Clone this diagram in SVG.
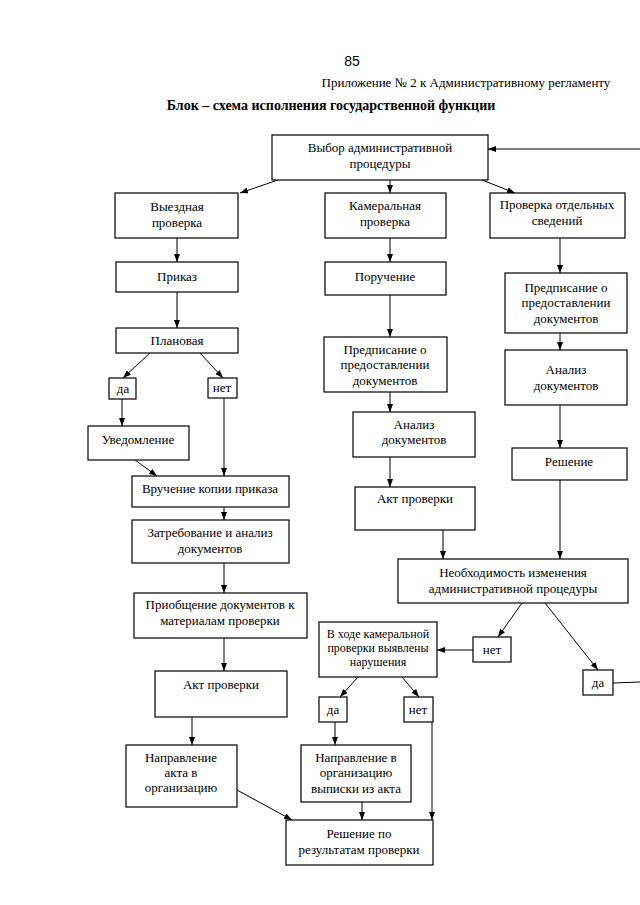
<svg xmlns="http://www.w3.org/2000/svg" width="640" height="905" viewBox="0 0 640 905">
<defs>
<marker id="arr" markerWidth="8" markerHeight="6" refX="8" refY="3" orient="auto" markerUnits="userSpaceOnUse">
<path d="M0,0 L8,3 L0,6 z" fill="#000"/>
</marker>
<style>
rect{fill:#fff;stroke:#000;stroke-width:1.2}
text{font-family:"Liberation Serif","Times New Roman",serif;font-size:13px;fill:#000;text-anchor:middle}
.c line{stroke:#000;stroke-width:1}
.c .a{marker-end:url(#arr)}
.s{font-size:12px}
</style>
</defs>
<rect x="0" y="0" width="640" height="905" style="stroke:none;fill:#fff"/>
<text x="352" y="66" style="font-family:'Liberation Sans',Arial,sans-serif;font-size:14px">85</text>
<text x="466" y="87">Приложение № 2 к Административному регламенту</text>
<text x="331" y="110" style="font-weight:bold;font-size:14px">Блок – схема исполнения государственной функции</text>

<g class="c" id="connectors">
<line class="a" x1="640" y1="149" x2="488" y2="149"/>
<line class="a" x1="278" y1="180" x2="240" y2="193"/>
<line class="a" x1="390" y1="180" x2="390" y2="193"/>
<line class="a" x1="482" y1="180" x2="515" y2="193"/>
<line class="a" x1="177" y1="238" x2="177" y2="262"/>
<line class="a" x1="177" y1="292" x2="177" y2="328"/>
<line class="a" x1="150" y1="353" x2="123" y2="378"/>
<line class="a" x1="200" y1="353" x2="223" y2="378"/>
<line class="a" x1="122" y1="399" x2="122" y2="426"/>
<line class="a" x1="224" y1="398" x2="224" y2="476"/>
<line class="a" x1="135" y1="460" x2="157" y2="476"/>
<line class="a" x1="224" y1="507" x2="224" y2="520"/>
<line class="a" x1="224" y1="563" x2="224" y2="593"/>
<line class="a" x1="224" y1="638" x2="224" y2="671"/>
<line class="a" x1="192" y1="717" x2="192" y2="745"/>
<line class="a" x1="237" y1="790" x2="292" y2="820"/>
<line class="a" x1="390" y1="238" x2="390" y2="262"/>
<line class="a" x1="390" y1="295" x2="390" y2="337"/>
<line class="a" x1="390" y1="392" x2="390" y2="412"/>
<line class="a" x1="390" y1="457" x2="390" y2="487"/>
<line class="a" x1="443" y1="530" x2="443" y2="559"/>
<line class="a" x1="560" y1="238" x2="560" y2="273"/>
<line class="a" x1="560" y1="333" x2="560" y2="350"/>
<line class="a" x1="560" y1="405" x2="560" y2="448"/>
<line class="a" x1="560" y1="480" x2="560" y2="559"/>
<line class="a" x1="522" y1="603" x2="498" y2="637"/>
<line class="a" x1="545" y1="603" x2="598" y2="670"/>
<line class="a" x1="473" y1="650" x2="437" y2="650"/>
<line x1="613" y1="683" x2="640" y2="682"/>
<line class="a" x1="358" y1="677" x2="340" y2="697"/>
<line class="a" x1="402" y1="677" x2="419" y2="697"/>
<line class="a" x1="335" y1="722" x2="335" y2="745"/>
<line class="a" x1="432" y1="722" x2="432" y2="820"/>
<line class="a" x1="362" y1="802" x2="362" y2="820"/>
</g>

<g id="n-vybor"><rect x="272" y="135" width="216" height="45"/><text x="380" y="152">Выбор административной</text><text x="380" y="168">процедуры</text></g>
<g id="n-vyezd"><rect x="115" y="193" width="123" height="45"/><text x="177" y="211">Выездная</text><text x="177" y="227">проверка</text></g>
<g id="n-kamer"><rect x="325" y="193" width="121" height="45"/><text x="385" y="210">Камеральная</text><text x="385" y="226">проверка</text></g>
<g id="n-otdel"><rect x="490" y="193" width="135" height="45"/><text x="557" y="209">Проверка отдельных</text><text x="557" y="225">сведений</text></g>
<g id="n-prikaz"><rect x="116" y="262" width="122" height="30"/><text x="177" y="281">Приказ</text></g>
<g id="n-poruch"><rect x="325" y="262" width="121" height="33"/><text x="385" y="281">Поручение</text></g>
<g id="n-predp2"><rect x="505" y="273" width="122" height="60"/><text x="566" y="292">Предписание о</text><text x="566" y="307">предоставлении</text><text x="566" y="323">документов</text></g>
<g id="n-plan"><rect x="116" y="328" width="122" height="25"/><text x="177" y="345">Плановая</text></g>
<g id="n-predp1"><rect x="324" y="337" width="123" height="55"/><text x="385" y="354">Предписание о</text><text x="385" y="369">предоставлении</text><text x="385" y="385">документов</text></g>
<g id="n-anal2"><rect x="505" y="350" width="122" height="55"/><text x="566" y="374">Анализ</text><text x="566" y="390">документов</text></g>
<g id="n-da1"><rect x="109" y="378" width="27" height="21"/><text x="123" y="393">да</text></g>
<g id="n-net1"><rect x="208" y="378" width="29" height="20"/><text x="222" y="392">нет</text></g>
<g id="n-anal1"><rect x="353" y="412" width="122" height="45"/><text x="414" y="429">Анализ</text><text x="414" y="444">документов</text></g>
<g id="n-uved"><rect x="88" y="426" width="101" height="34"/><text x="138" y="444">Уведомление</text></g>
<g id="n-resh"><rect x="512" y="448" width="115" height="32"/><text x="569" y="466">Решение</text></g>
<g id="n-vruch"><rect x="132" y="476" width="157" height="31"/><text x="210" y="493">Вручение копии приказа</text></g>
<g id="n-akt1"><rect x="355" y="487" width="120" height="43"/><text x="415" y="503">Акт проверки</text></g>
<g id="n-zatreb"><rect x="132" y="520" width="157" height="43"/><text x="210" y="537">Затребование и анализ</text><text x="210" y="553">документов</text></g>
<g id="n-neobh"><rect x="398" y="559" width="230" height="44"/><text x="513" y="577">Необходимость изменения</text><text x="513" y="593">административной процедуры</text></g>
<g id="n-priob"><rect x="134" y="593" width="173" height="45"/><text x="220" y="609">Приобщение документов к</text><text x="220" y="625">материалам проверки</text></g>
<g id="n-vhode"><rect x="319" y="622" width="118" height="55"/><text class="s" x="378" y="638">В ходе камеральной</text><text class="s" x="378" y="652">проверки выявлены</text><text class="s" x="378" y="666">нарушения</text></g>
<g id="n-net2"><rect x="473" y="637" width="38" height="25"/><text x="492" y="654">нет</text></g>
<g id="n-da2"><rect x="583" y="670" width="30" height="25"/><text x="598" y="687">да</text></g>
<g id="n-akt2"><rect x="155" y="671" width="132" height="46"/><text x="221" y="689">Акт проверки</text></g>
<g id="n-da3"><rect x="319" y="697" width="28" height="25"/><text x="333" y="714">да</text></g>
<g id="n-net3"><rect x="404" y="697" width="29" height="25"/><text x="418" y="714">нет</text></g>
<g id="n-napr1"><rect x="126" y="745" width="111" height="62"/><text x="181" y="762">Направление</text><text x="181" y="777">акта в</text><text x="181" y="792">организацию</text></g>
<g id="n-napr2"><rect x="301" y="745" width="110" height="57"/><text x="356" y="762">Направление в</text><text x="356" y="777">организацию</text><text x="356" y="793">выписки из акта</text></g>
<g id="n-reshpo"><rect x="286" y="820" width="147" height="45"/><text x="359" y="838">Решение по</text><text x="359" y="854">результатам проверки</text></g>
</svg>
